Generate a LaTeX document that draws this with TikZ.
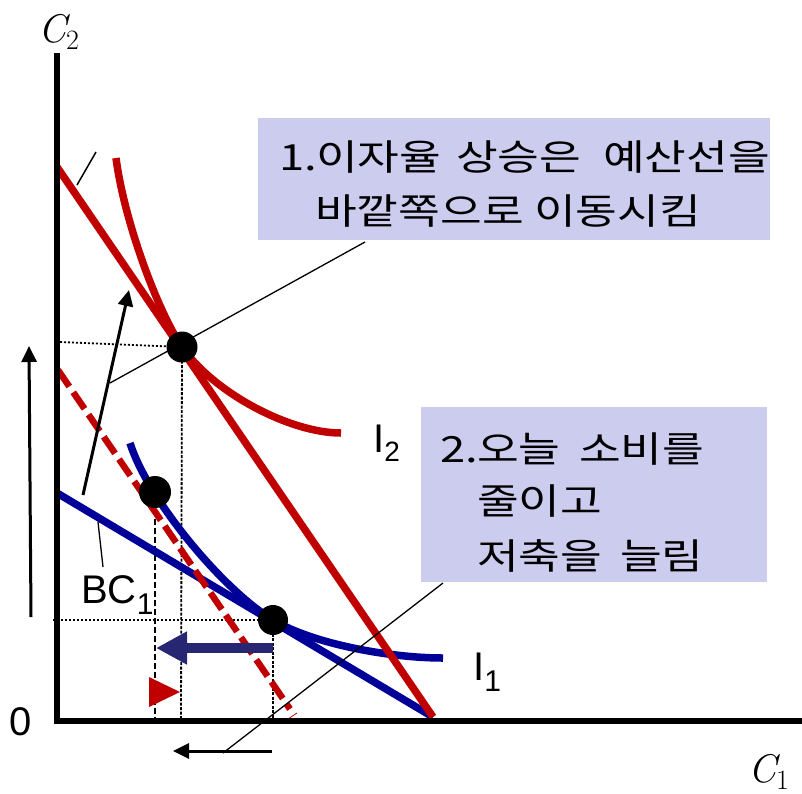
\documentclass[tikz,border=0pt]{standalone}
\usepackage{fontspec}
\newfontfamily\arial{Liberation Sans}
\newfontfamily\kr[FakeStretch=1.26]{Noto Sans CJK KR}
\usetikzlibrary{arrows.meta}
\definecolor{cred}{RGB}{192,0,0}
\definecolor{cblue}{RGB}{0,0,153}
\definecolor{cnavy}{RGB}{38,38,115}
\definecolor{cbox}{RGB}{204,204,238}
\begin{document}
\begin{tikzpicture}[x=1pt,y=-1pt,
  redl/.style={draw=cred,line width=7.5pt},
  bluel/.style={draw=cblue,line width=7.5pt},
  hguide/.style={line width=1.8pt,dash pattern=on 2pt off 2pt},
  vguide/.style={line width=1.8pt,dash pattern=on 3pt off 1.5pt},
  vdash/.style={line width=1.8pt,dash pattern=on 6pt off 3pt},
  dot/.style={circle,fill=black,minimum size=31pt,inner sep=0pt},
  lbl/.style={font=\arial\fontsize{40}{48}\selectfont,inner sep=0pt,anchor=base west},
  krt/.style={font=\kr\fontsize{36}{44}\selectfont,inner sep=0pt,anchor=base west},
  note/.style={fill=cbox,draw=none,inner sep=0pt},
  blk/.style={line width=3pt,-{Triangle[length=16pt,width=15pt]}},
  lead/.style={line width=1.3pt}
]
\useasboundingbox (0,0) rectangle (802,793);
% note boxes
\node[note,minimum width=512pt,minimum height=122pt] (box1) at (514,179) {};
\node[note,minimum width=346pt,minimum height=175pt] (box2) at (594,494.5) {};
% box 1 text
\node[krt] (t1a) at (279,170) {1.};
\node[krt] (t1b) at (316,170) {이자율};
\node[krt] (t1c) at (456,170) {상승은};
\node[krt] (t1d) at (603,170) {예산선을};
\node[krt] (t1e) at (315,224) {바깥쪽으로};
\node[krt] (t1f) at (534,224) {이동시킴};
% box 2 text
\node[krt] (t2a) at (440,462) {2.};
\node[krt] (t2b) at (477,462) {오늘};
\node[krt] (t2c) at (579,462) {소비를};
\node[krt] (t2d) at (477,514) {줄이고};
\node[krt] (t2e) at (477,569) {저축을};
\node[krt] (t2f) at (620,569) {늘림};
% key points
\coordinate (A) at (182,347);
\coordinate (B) at (155,492);
\coordinate (E) at (273,620);
% guides
\draw[hguide] (60,342) -- (A);
\draw[vguide] (A) -- (181,720);
\draw[vdash] (B) -- (155,720);
\draw[hguide] (53,620) -- (E);
\draw[vguide] (E) -- (273,720);
% blue curves
\draw[bluel] (57,493) -- (433,717);
\draw[bluel] (130,443) .. controls (148,500) and (223,590) .. (E)
  .. controls (313,644) and (390,658) .. (443,658);
% red curves
\draw[redl] (57,167) -- (433,717);
\draw[redl] (116,158) .. controls (124,220) and (157,310) .. (A)
  .. controls (214,393) and (290,433) .. (341,433);
\draw[cred,line width=6.5pt,dash pattern=on 20pt off 7pt] (58,370) -- (290,709);
\draw[cred,line width=0.8pt] (288,719) -- (297,713);
% axes
\draw[line width=6pt,line join=miter] (57,53) -- (57,721) -- (802,721);
% dots
\node[dot] (dA) at (A) {};
\node[dot,minimum size=32pt] (dB) at (B) {};
\node[dot,minimum size=30pt] (dE) at (E) {};
% arrows
\draw[cnavy,line width=10pt,-{Triangle[length=31pt,width=31pt]}] (273,648) -- (156,648);
\fill[cred] (149,677) -- (180,692) -- (149,707) -- cycle;
\draw[blk] (31,617) -- (29,346);
\draw[blk] (83,495) -- (129,290);
\draw[blk] (272,751) -- (173,751);
% leaders
\coordinate (l1a) at (365,242);
\coordinate (l1b) at (110,383);
\draw[lead] (l1a) -- (l1b);
\coordinate (l2a) at (443,583);
\coordinate (l2b) at (223,753);
\draw[lead] (l2a) -- (l2b);
\coordinate (l3a) at (98,522);
\coordinate (l3b) at (103,567);
\draw[lead] (l3a) -- (l3b);
\coordinate (tk1) at (77,185);
\coordinate (tk2) at (96,152);
\draw[line width=1.5pt] (tk1) -- (tk2);
% labels
\node[lbl] (zero) at (9,735) {0};
\node[lbl] (bc) at (81,603) {BC\raisebox{-11pt}{\fontsize{30}{30}\selectfont 1}};
\node[lbl] (i2) at (373,452) {I\raisebox{-9pt}{\fontsize{28}{28}\selectfont 2}};
\node[lbl] (i1) at (473,680) {I\raisebox{-11pt}{\fontsize{30}{30}\selectfont 1}};
\node[anchor=base west,inner sep=0pt,font=\fontsize{40}{48}\selectfont] (c2) at (38,42) {\itshape C\raisebox{-7pt}{\upshape\fontsize{28}{28}\selectfont 2}};
\node[anchor=base west,inner sep=0pt,font=\fontsize{40}{48}\selectfont] (c1) at (748,782) {\itshape C\raisebox{-7pt}{\upshape\fontsize{28}{28}\selectfont 1}};
\end{tikzpicture}
\end{document}
